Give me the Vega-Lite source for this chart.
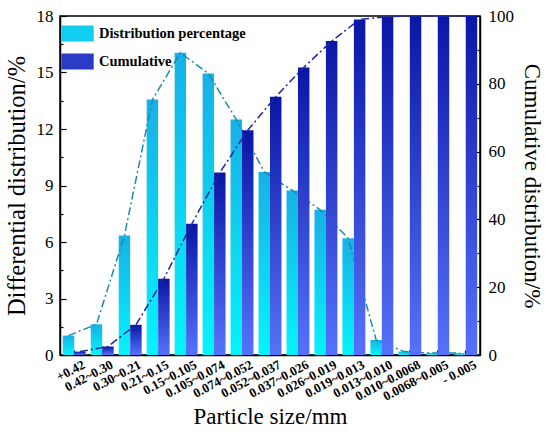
{
  "$schema": "https://vega.github.io/schema/vega-lite/v6.json",
  "autosize": "none",
  "width": 420,
  "height": 339,
  "padding": {"left": 60, "top": 16, "right": 70, "bottom": 84},
  "background": "white",
  "config": {
    "font": "Liberation Serif",
    "view": {"stroke": "black", "strokeWidth": 1.5},
    "axis": {
      "grid": false,
      "domainColor": "black",
      "domainWidth": 1.5,
      "tickColor": "black",
      "tickWidth": 1.2,
      "labelColor": "black",
      "titleColor": "black",
      "labelFont": "Liberation Serif",
      "titleFont": "Liberation Serif",
      "titleFontWeight": "normal",
      "titleFontSize": 23
    }
  },
  "data": {
    "values": [
      {"size": "+0.42", "Distribution percentage": 1.03, "Cumulative": 1.0},
      {"size": "0.42~0.30", "Distribution percentage": 1.63, "Cumulative": 2.5},
      {"size": "0.30~0.21", "Distribution percentage": 6.35, "Cumulative": 8.9},
      {"size": "0.21~0.15", "Distribution percentage": 13.56, "Cumulative": 22.5},
      {"size": "0.15~0.105", "Distribution percentage": 16.05, "Cumulative": 38.7},
      {"size": "0.105~0.074", "Distribution percentage": 14.95, "Cumulative": 53.8},
      {"size": "0.074~0.052", "Distribution percentage": 12.5, "Cumulative": 66.3},
      {"size": "0.052~0.037", "Distribution percentage": 9.72, "Cumulative": 76.2},
      {"size": "0.037~0.026", "Distribution percentage": 8.74, "Cumulative": 84.8},
      {"size": "0.026~0.019", "Distribution percentage": 7.71, "Cumulative": 92.6},
      {"size": "0.019~0.013", "Distribution percentage": 6.2, "Cumulative": 99.0},
      {"size": "0.013~0.010", "Distribution percentage": 0.8, "Cumulative": 99.8},
      {"size": "0.010~0.0068", "Distribution percentage": 0.18, "Cumulative": 100},
      {"size": "0.0068~0.005", "Distribution percentage": 0.1, "Cumulative": 100},
      {"size": "- 0.005", "Distribution percentage": 0.1, "Cumulative": 100}
    ]
  },
  "transform": [
    {"fold": ["Distribution percentage", "Cumulative"], "as": ["series", "value"]}
  ],
  "encoding": {
    "x": {
      "field": "size",
      "type": "nominal",
      "sort": null,
      "scale": {"paddingInner": 0.18, "paddingOuter": 0.1},
      "axis": {
        "title": "Particle size/mm",
        "titlePadding": 2,
        "labelAngle": -28,
        "labelAlign": "right",
        "labelBaseline": "top",
        "labelOffset": 7,
        "labelFontSize": 13,
        "labelFontWeight": "bold",
        "labelPadding": 8,
        "tickSize": -5
      }
    },
    "xOffset": {
      "field": "series",
      "type": "nominal",
      "sort": ["Distribution percentage", "Cumulative"],
      "scale": {"paddingInner": 0, "paddingOuter": 0}
    }
  },
  "layer": [
    {
      "transform": [{"filter": "datum.series === 'Distribution percentage'"}],
      "encoding": {
        "y": {
          "field": "value",
          "type": "quantitative",
          "scale": {"domain": [0, 18], "nice": false},
          "axis": {
            "title": "Differential distribution/%",
            "titleFontSize": 24.5,
            "titlePadding": 7,
            "values": [0, 1.5, 3, 4.5, 6, 7.5, 9, 10.5, 12, 13.5, 15, 16.5, 18],
            "labelExpr": "datum.value % 3 === 0 ? datum.label : ''",
            "tickSize": {"condition": {"test": "datum.value % 3 === 0", "value": -6}, "value": -3},
            "labelFontSize": 17,
            "labelPadding": 13
          }
        }
      },
      "layer": [
        {
          "mark": {
            "type": "bar",
            "strokeWidth": 0,
            "fill": {"gradient": "linear", "x1": 0, "y1": 0, "x2": 0, "y2": 1, "stops": [{"offset": 0, "color": "#18b0e6"}, {"offset": 1, "color": "#04f4fc"}]}
          }
        },
        {
          "mark": {"type": "bar", "opacity": 0},
          "encoding": {
            "color": {
              "field": "series",
              "type": "nominal",
              "scale": {
                "domain": ["Distribution percentage", "Cumulative"],
                "range": ["#12cdf2", "#2a3cc6"]
              },
              "legend": {
                "title": null,
                "orient": "top-left",
                "offset": 1,
                "padding": 0,
                "symbolType": "M-1,-0.5H1V0.5H-1Z",
                "symbolSize": 1050,
                "symbolStrokeWidth": 0,
                "symbolOpacity": 1,
                "labelFont": "Liberation Serif",
                "labelFontSize": 14.5,
                "labelFontWeight": "bold",
                "labelColor": "black",
                "labelOffset": 5,
                "rowPadding": 3
              }
            }
          }
        },
        {
          "mark": {"type": "line", "color": "#1a8aae", "strokeWidth": 1.5, "strokeDash": [8, 3, 2, 3]},
          "encoding": {}
        }
      ]
    },
    {
      "transform": [{"filter": "datum.series === 'Cumulative'"}],
      "encoding": {
        "y": {
          "field": "value",
          "type": "quantitative",
          "scale": {"domain": [0, 100], "nice": false},
          "axis": {
            "orient": "right",
            "title": "Cumulative distribution/%",
            "titlePadding": 6,
            "values": [0, 10, 20, 30, 40, 50, 60, 70, 80, 90, 100],
            "labelExpr": "datum.value % 20 === 0 ? datum.label : ''",
            "tickSize": {"condition": {"test": "datum.value % 20 === 0", "value": -6}, "value": -3},
            "labelFontSize": 17,
            "labelPadding": 14
          }
        }
      },
      "layer": [
        {
          "mark": {
            "type": "bar",
            "strokeWidth": 0,
            "fill": {"gradient": "linear", "x1": 0, "y1": 0, "x2": 0, "y2": 1, "stops": [{"offset": 0, "color": "#0a16a6"}, {"offset": 1, "color": "#5672fa"}]}
          }
        },
        {
          "mark": {"type": "line", "color": "#1c2aa2", "strokeWidth": 1.5, "strokeDash": [8, 3, 2, 3]},
          "encoding": {}
        }
      ]
    }
  ],
  "resolve": {"scale": {"y": "independent"}, "axis": {"y": "independent"}}
}
